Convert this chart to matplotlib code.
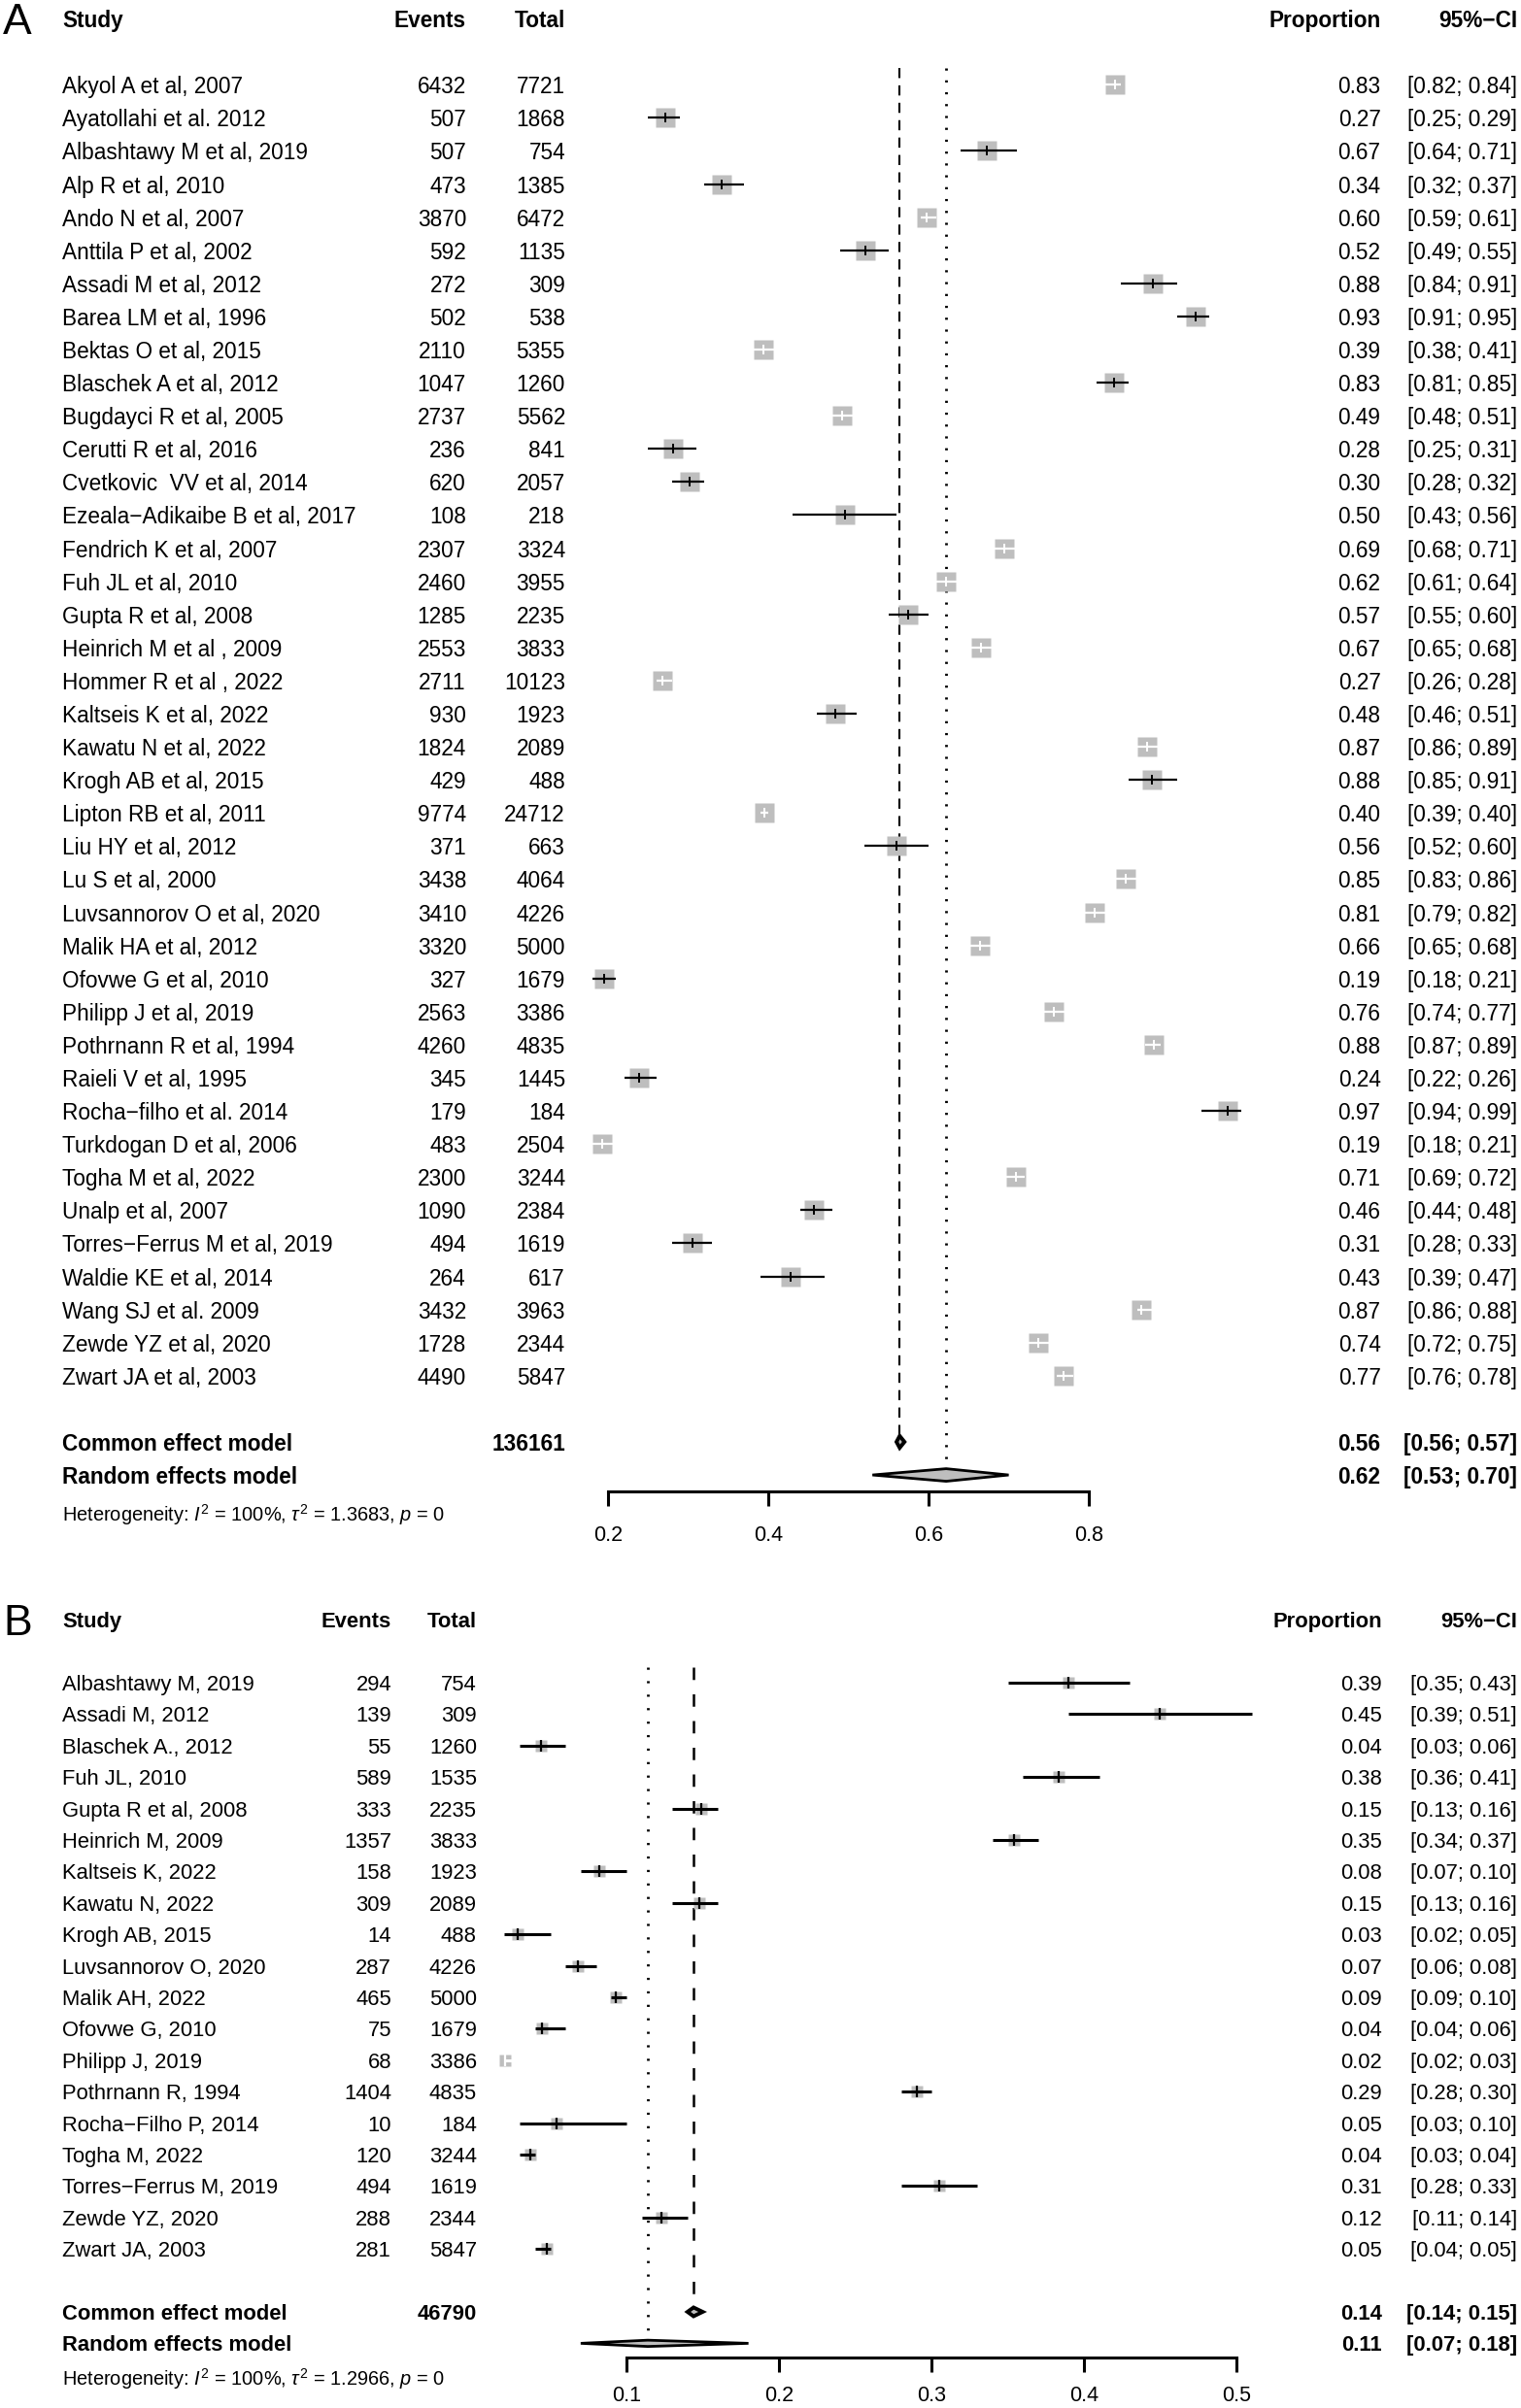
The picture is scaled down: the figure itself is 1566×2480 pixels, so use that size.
import numpy as np
import matplotlib
matplotlib.use('Agg')
import matplotlib.pyplot as plt
from matplotlib import transforms

plt.rcParams['font.family'] = ['Liberation Sans', 'DejaVu Sans']
plt.rcParams['mathtext.fontset'] = 'custom'
plt.rcParams['mathtext.rm'] = 'Liberation Sans'
plt.rcParams['mathtext.it'] = 'Liberation Sans:italic'

# ---- panel A: all studies ----
studies_a = ["Akyol A et al, 2007", "Ayatollahi et al. 2012", "Albashtawy M et al, 2019",
             "Alp R et al, 2010", "Ando N et al, 2007", "Anttila P et al, 2002",
             "Assadi M et al, 2012", "Barea LM et al, 1996", "Bektas O et al, 2015",
             "Blaschek A et al, 2012", "Bugdayci R et al, 2005", "Cerutti R et al, 2016",
             "Cvetkovic  VV et al, 2014", "Ezeala\u2212Adikaibe B et al, 2017",
             "Fendrich K et al, 2007", "Fuh JL et al, 2010", "Gupta R et al, 2008",
             "Heinrich M et al , 2009", "Hommer R et al , 2022", "Kaltseis K et al, 2022",
             "Kawatu N et al, 2022", "Krogh AB et al, 2015", "Lipton RB et al, 2011",
             "Liu HY et al, 2012", "Lu S et al, 2000", "Luvsannorov O et al, 2020",
             "Malik HA et al, 2012", "Ofovwe G et al, 2010", "Philipp J et al, 2019",
             "Pothrnann R et al, 1994", "Raieli V et al, 1995", "Rocha\u2212filho et al. 2014",
             "Turkdogan D et al, 2006", "Togha M et al, 2022", "Unalp et al, 2007",
             "Torres\u2212Ferrus M et al, 2019", "Waldie KE et al, 2014", "Wang SJ et al. 2009",
             "Zewde YZ et al, 2020", "Zwart JA et al, 2003"]
events_a = [6432, 507, 507, 473, 3870, 592, 272, 502, 2110, 1047, 2737, 236, 620, 108,
            2307, 2460, 1285, 2553, 2711, 930, 1824, 429, 9774, 371, 3438, 3410, 3320,
            327, 2563, 4260, 345, 179, 483, 2300, 1090, 494, 264, 3432, 1728, 4490]
total_a = [7721, 1868, 754, 1385, 6472, 1135, 309, 538, 5355, 1260, 5562, 841, 2057, 218,
           3324, 3955, 2235, 3833, 10123, 1923, 2089, 488, 24712, 663, 4064, 4226, 5000,
           1679, 3386, 4835, 1445, 184, 2504, 3244, 2384, 1619, 617, 3963, 2344, 5847]
lower_a = [0.82, 0.25, 0.64, 0.32, 0.59, 0.49, 0.84, 0.91, 0.38, 0.81, 0.48, 0.25, 0.28, 0.43,
           0.68, 0.61, 0.55, 0.65, 0.26, 0.46, 0.86, 0.85, 0.39, 0.52, 0.83, 0.79, 0.65,
           0.18, 0.74, 0.87, 0.22, 0.94, 0.18, 0.69, 0.44, 0.28, 0.39, 0.86, 0.72, 0.76]
upper_a = [0.84, 0.29, 0.71, 0.37, 0.61, 0.55, 0.91, 0.95, 0.41, 0.85, 0.51, 0.31, 0.32, 0.56,
           0.71, 0.64, 0.60, 0.68, 0.28, 0.51, 0.89, 0.91, 0.40, 0.60, 0.86, 0.82, 0.68,
           0.21, 0.77, 0.89, 0.26, 0.99, 0.21, 0.72, 0.48, 0.33, 0.47, 0.88, 0.75, 0.78]
common_a = (0.564, 0.56, 0.57)   # estimate, lower, upper
random_a = (0.622, 0.53, 0.70)
pooled_total_a = 136161
het_a = r"Heterogeneity: $I^2$ = 100%, $\tau^2$ = 1.3683, $p$ = 0"
ticks_a = [0.2, 0.4, 0.6, 0.8]

# ---- panel B ----
studies_b = ["Albashtawy M, 2019", "Assadi M, 2012", "Blaschek A., 2012", "Fuh JL, 2010",
             "Gupta R et al, 2008", "Heinrich M, 2009", "Kaltseis K, 2022", "Kawatu N, 2022",
             "Krogh AB, 2015", "Luvsannorov O, 2020", "Malik AH, 2022", "Ofovwe G, 2010",
             "Philipp J, 2019", "Pothrnann R, 1994", "Rocha\u2212Filho P, 2014", "Togha M, 2022",
             "Torres\u2212Ferrus M, 2019", "Zewde YZ, 2020", "Zwart JA, 2003"]
events_b = [294, 139, 55, 589, 333, 1357, 158, 309, 14, 287, 465, 75, 68, 1404, 10, 120,
            494, 288, 281]
total_b = [754, 309, 1260, 1535, 2235, 3833, 1923, 2089, 488, 4226, 5000, 1679, 3386, 4835,
           184, 3244, 1619, 2344, 5847]
lower_b = [0.35, 0.39, 0.03, 0.36, 0.13, 0.34, 0.07, 0.13, 0.02, 0.06, 0.09, 0.04, 0.02, 0.28,
           0.03, 0.03, 0.28, 0.11, 0.04]
upper_b = [0.43, 0.51, 0.06, 0.41, 0.16, 0.37, 0.10, 0.16, 0.05, 0.08, 0.10, 0.06, 0.03, 0.30,
           0.10, 0.04, 0.33, 0.14, 0.05]
common_b = (0.144, 0.14, 0.15)
random_b = (0.114, 0.07, 0.18)
pooled_total_b = 46790
het_b = r"Heterogeneity: $I^2$ = 100%, $\tau^2$ = 1.2966, $p$ = 0"
ticks_b = [0.1, 0.2, 0.3, 0.4, 0.5]

W, H = 1566, 2480
fig = plt.figure(figsize=(W / 100, H / 100), dpi=100)
GREY = '#bebebe'


def forest(rect, ylim, xlim, label, names, events, totals, lower, upper, common, random,
           pooled_total, het, ticks, cols, st):
    ax = fig.add_axes(rect)
    ax.set_xlim(xlim)
    ax.set_ylim(ylim)
    ax.patch.set_visible(False)
    for s in ['top', 'left', 'right']:
        ax.spines[s].set_visible(False)
    n = len(names)
    y = np.arange(n)
    events = np.array(events)
    totals = np.array(totals)
    p = events / totals
    r_common, r_random = n + 1, n + 2

    # axis below the pooled rows
    ax.spines['bottom'].set_position(('data', n + st['axis_off']))
    ax.spines['bottom'].set_bounds(ticks[0], ticks[-1])
    ax.spines['bottom'].set_linewidth(2.2)
    ax.set_xticks(ticks)
    ax.set_xticklabels([f"{t:g}" for t in ticks])
    ax.tick_params(axis='x', direction='out', length=10.8, width=2.2,
                   labelsize=15.5, pad=st['pad'])
    ax.set_yticks([])

    # reference lines
    ax.plot([common[0], common[0]], [-0.5, r_common], color='black', lw=st['dash_lw'],
            dashes=st['dashes'], zorder=1)
    ax.plot([random[0], random[0]], [-0.5, r_random - st['dh_r']], color='black', lw=2,
            dashes=st['dots'], zorder=1)

    # study squares and CIs (white line when the CI sits inside the square)
    wald = 1.96 * np.sqrt(p * (1 - p) / totals)
    colors = ['white' if w < st['inside'] else 'black' for w in wald]
    ax.plot(p, y, 's', ms=st['sq'], color=GREY, mec='none', zorder=2)
    ax.hlines(y, lower, upper, colors=colors, lw=st['ci_lw'], zorder=3)
    for i in range(n):
        ax.plot(p[i], y[i], '|', ms=st['tick_ms'], mew=st['tick_mew'], color=colors[i], zorder=4)

    # pooled diamonds
    for (est, lo, hi), r, h, lw in [(common, r_common, st['dh_c'], 2.8),
                                    (random, r_random, st['dh_r'], 2)]:
        ax.fill([lo, est, hi, est], [r, r - h, r, r + h], facecolor=GREY,
                edgecolor='black', lw=lw, zorder=5)

    tr = transforms.blended_transform_factory(fig.transFigure, ax.transData)
    fs = st['fs']

    def txt(x, row, s, ha='left', **kw):
        ax.text(x, row, s, transform=tr, ha=ha, va='center_baseline', fontsize=fs, **kw)

    ax.text(0.002, -2, label, transform=tr, ha='left', va='center_baseline', fontsize=32)
    txt(cols['study'], -2, "Study", weight='bold')
    txt(cols['events'], -2, "Events", ha='right', weight='bold')
    txt(cols['total'], -2, "Total", ha='right', weight='bold')
    txt(cols['prop'], -2, "Proportion", ha='right', weight='bold')
    txt(cols['ci'], -2, "95%\u2212CI", ha='right', weight='bold')

    for i in range(n):
        txt(cols['study'], i, names[i])
        txt(cols['events'], i, str(events[i]), ha='right')
        txt(cols['total'], i, str(totals[i]), ha='right')
        txt(cols['prop'], i, f"{p[i]:.2f}", ha='right')
        txt(cols['ci'], i, f"[{lower[i]:.2f}; {upper[i]:.2f}]", ha='right')

    txt(cols['study'], r_common, "Common effect model", weight='bold')
    txt(cols['total'], r_common, str(pooled_total), ha='right', weight='bold')
    txt(cols['prop'], r_common, f"{common[0]:.2f}", ha='right', weight='bold')
    txt(cols['ci'], r_common, f"[{common[1]:.2f}; {common[2]:.2f}]", ha='right', weight='bold')
    txt(cols['study'], r_random, "Random effects model", weight='bold')
    txt(cols['prop'], r_random, f"{random[0]:.2f}", ha='right', weight='bold')
    txt(cols['ci'], r_random, f"[{random[1]:.2f}; {random[2]:.2f}]", ha='right', weight='bold')
    ax.text(cols['study'], n + st['het_off'], het, transform=tr, ha='left',
            va='center_baseline', fontsize=14.4)
    return ax


# panel A: rows 34.09 px apart, first row at y=87.3 px
a_bottom = 87.3 + 46.5 * 34.09
forest([543.5 / W, 1 - a_bottom / H, (1286 - 543.5) / W, a_bottom / H], (46.5, -2.561), (0.1, 1.0),
       "A", studies_a, events_a, total_a, lower_a, upper_a, common_a, random_a,
       pooled_total_a, het_a, ticks_a,
       dict(study=64 / W, events=480 / W, total=582 / W, prop=1421.6 / W, ci=1562 / W),
       dict(fs=16.3, sq=15, inside=0.0184, ci_lw=1.6, tick_ms=6.5, tick_mew=1.4,
            dh_c=0.18, dh_r=0.19, axis_off=2.5, het_off=3.1, pad=14.5,
            dash_lw=1.5, dashes=(5.0, 3.6), dots=(0.8, 3.6)))

# panel B: rows 32.4 px apart, first row at y=1733 px
forest([488 / W, 0, (1351.5 - 488) / W, (H - 1648.8) / H], (23.056, -2.6), (0.0, 0.55),
       "B", studies_b, events_b, total_b, lower_b, upper_b, common_b, random_b,
       pooled_total_b, het_b, ticks_b,
       dict(study=64 / W, events=403 / W, total=491 / W, prop=1423 / W, ci=1562 / W),
       dict(fs=15.8, sq=8, inside=0.005, ci_lw=2.2, tick_ms=8, tick_mew=1.6,
            dh_c=0.14, dh_r=0.1, axis_off=2.45, het_off=3.03, pad=10,
            dash_lw=1.8, dashes=(5.1, 5.9), dots=(0.8, 4.2)))

fig.savefig("out.png", dpi=100)
